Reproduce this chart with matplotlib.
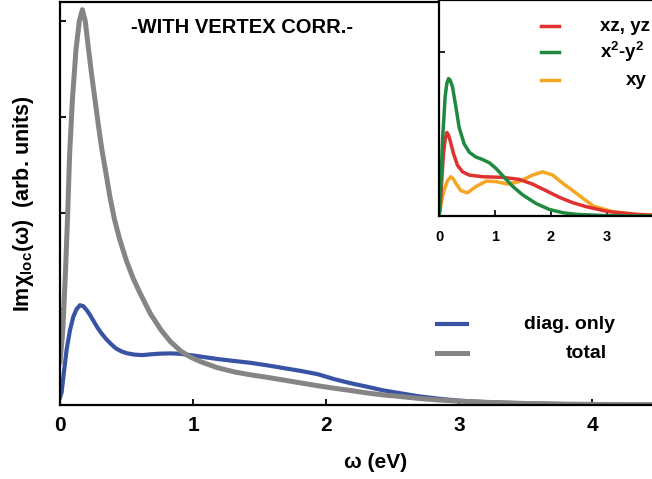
import matplotlib.pyplot as plt

plt.rcParams['font.family'] = ['Liberation Sans', 'DejaVu Sans']
plt.rcParams['font.weight'] = 'bold'
plt.rcParams['axes.labelweight'] = 'bold'
plt.rcParams['mathtext.default'] = 'regular'

# total susceptibility and its diagonal part (main panel)
w_total = [0.0, 0.02, 0.04, 0.058, 0.072, 0.093, 0.12, 0.145, 0.168, 0.19,
           0.215, 0.24, 0.265, 0.29, 0.315, 0.35, 0.375, 0.41, 0.45, 0.5,
           0.55, 0.6, 0.68, 0.76, 0.83, 0.91, 0.98, 1.06, 1.18, 1.31, 1.43,
           1.55, 1.68, 1.81, 1.94, 2.06, 2.19, 2.31, 2.43, 2.56, 2.7, 2.85,
           3.0, 3.2, 3.5, 3.8, 4.2, 4.75]
chi_total = [0.45, 0.75, 1.35, 2.0, 2.6, 3.18, 3.7, 4.0, 4.12, 4.0,
             3.7, 3.42, 3.16, 2.9, 2.66, 2.38, 2.17, 1.93, 1.72, 1.5,
             1.32, 1.17, 0.95, 0.78, 0.66, 0.56, 0.5, 0.45, 0.39, 0.345, 0.315,
             0.29, 0.26, 0.23, 0.2, 0.175, 0.15, 0.125, 0.105, 0.088, 0.068, 0.052,
             0.04, 0.028, 0.016, 0.009, 0.004, 0.002]

w_diag = [0.0, 0.012, 0.03, 0.05, 0.075, 0.1, 0.125, 0.15, 0.175, 0.2,
          0.225, 0.25, 0.28, 0.31, 0.345, 0.38, 0.42, 0.46, 0.5, 0.56,
          0.62, 0.68, 0.75, 0.83, 0.9, 0.98, 1.08, 1.18, 1.3, 1.43,
          1.55, 1.68, 1.81, 1.94, 2.06, 2.19, 2.31, 2.43, 2.56, 2.7,
          2.85, 3.0, 3.2, 3.5, 3.8, 4.2, 4.75]
chi_diag = [0.08, 0.13, 0.35, 0.58, 0.78, 0.92, 1.0, 1.04, 1.03, 0.99,
            0.94, 0.88, 0.81, 0.75, 0.69, 0.64, 0.59, 0.56, 0.54, 0.525,
            0.52, 0.528, 0.535, 0.538, 0.534, 0.52, 0.5, 0.48, 0.46, 0.44,
            0.415, 0.385, 0.355, 0.32, 0.27, 0.225, 0.19, 0.152, 0.122, 0.09,
            0.065, 0.045, 0.03, 0.017, 0.009, 0.004, 0.002]

# orbital-resolved contributions (inset)
w_xz = [0.0, 0.02, 0.05, 0.08, 0.11, 0.14, 0.17, 0.2, 0.26, 0.33, 0.42,
        0.54, 0.78, 1.14, 1.43, 1.67, 1.91, 2.15, 2.39, 2.63, 3.0,
        3.5, 4.0]
chi_xz = [0.0, 0.04, 0.22, 0.38, 0.47, 0.51, 0.495, 0.46, 0.38, 0.31, 0.27,
          0.25, 0.24, 0.236, 0.224, 0.195, 0.155, 0.114, 0.081, 0.057, 0.028,
          0.01, 0.002]

w_x2y2 = [0.0, 0.02, 0.066, 0.11, 0.14, 0.17, 0.2, 0.24, 0.3, 0.36, 0.45,
          0.54, 0.66, 0.78, 0.9, 1.02, 1.14, 1.32, 1.49, 1.73, 1.97,
          2.21, 2.45, 3.0, 4.0]
chi_x2y2 = [0.0, 0.08, 0.48, 0.73, 0.81, 0.84, 0.83, 0.79, 0.67, 0.54, 0.44,
            0.39, 0.36, 0.345, 0.325, 0.29, 0.245, 0.18, 0.13, 0.077, 0.04,
            0.02, 0.01, 0.002, 0.0]

w_xy = [0.0, 0.02, 0.05, 0.095, 0.15, 0.21, 0.26, 0.3, 0.39, 0.51, 0.66,
        0.84, 1.02, 1.23, 1.43, 1.67, 1.85, 2.03, 2.21, 2.39, 2.57, 2.76,
        3.12, 3.55, 4.0]
chi_xy = [0.0, 0.04, 0.1, 0.16, 0.215, 0.24, 0.225, 0.2, 0.155, 0.142, 0.18,
          0.213, 0.21, 0.195, 0.21, 0.25, 0.27, 0.25, 0.2, 0.155, 0.108, 0.06,
          0.025, 0.01, 0.003]

main_ticks = [0, 1, 2, 3, 4]
inset_ticks = [0, 1, 2, 3]

BLUE = '#3953a4'
GRAY = '#858585'
RED = '#e0302f'
GREEN = '#1f8a3f'
ORANGE = '#f5a623'

fig = plt.figure(figsize=(6.52, 4.79), dpi=100)

ax = fig.add_axes([60 / 652, 74 / 479, 632 / 652, 403 / 479])
ax.plot(w_diag, chi_diag, color=BLUE, lw=3.0, solid_joinstyle='round')
ax.plot(w_total, chi_total, color=GRAY, lw=3.6, solid_joinstyle='round')
ax.set_xlim(0, 4.75)
ax.set_ylim(0, 4.2)
ax.set_xticks(main_ticks)
ax.set_yticks([1, 2, 3, 4])
ax.set_yticklabels([])
ax.tick_params(direction='in', length=4, width=1.3, labelsize=15, pad=8)
for s in ['left', 'bottom', 'top']:
    ax.spines[s].set_linewidth(1.6)
ax.spines['right'].set_visible(False)
ax.set_xlabel('ω (eV)', fontsize=15, labelpad=13)
ax.set_ylabel(r'Im$\chi_{loc}$(ω)  (arb. units)', fontsize=15.5)
ax.yaxis.set_label_coords(-0.038, 0.5)

ax.text(1.37, 3.93, '-WITH VERTEX CORR.-', fontsize=14.5, ha='center',
        va='center')

# legend for the main panel
ax.plot([2.83, 3.06], [0.84, 0.84], color=BLUE, lw=3.0)
ax.plot([2.83, 3.06], [0.54, 0.54], color=GRAY, lw=3.6)
ax.text(4.17, 0.84, 'diag. only', fontsize=14, ha='right', va='center')
ax.text(4.11, 0.54, 'total', fontsize=14, ha='right', va='center')

ins = fig.add_axes([439 / 652, 263 / 479, 224 / 652, 216 / 479])
ins.plot(w_xy, chi_xy, color=ORANGE, lw=2.5, solid_joinstyle='round')
ins.plot(w_xz, chi_xz, color=RED, lw=2.5, solid_joinstyle='round')
ins.plot(w_x2y2, chi_x2y2, color=GREEN, lw=2.5, solid_joinstyle='round')
ins.set_xlim(0, 4.0)
ins.set_ylim(0, 1.32)
ins.set_xticks(inset_ticks)
ins.set_yticks([1])
ins.set_yticklabels([])
ins.tick_params(direction='in', length=4, width=1.2, labelsize=10.5, pad=10)
for s in ['left', 'bottom', 'top']:
    ins.spines[s].set_linewidth(1.6)
ins.spines['right'].set_visible(False)

# legend for the inset
ins.plot([1.82, 2.14], [1.16, 1.16], color=RED, lw=2.5)
ins.plot([1.82, 2.14], [1.0, 1.0], color=GREEN, lw=2.5)
ins.plot([1.82, 2.14], [0.83, 0.83], color=ORANGE, lw=2.5)
ins.text(2.88, 1.16, 'xz, yz', fontsize=13.5, ha='left', va='center')
ins.text(2.88, 1.0, r'x$^2$-y$^2$', fontsize=13.5, ha='left', va='center')
ins.text(3.71, 0.83, 'xy', fontsize=13.5, ha='right', va='center')

fig.savefig('out.png', dpi=100)
